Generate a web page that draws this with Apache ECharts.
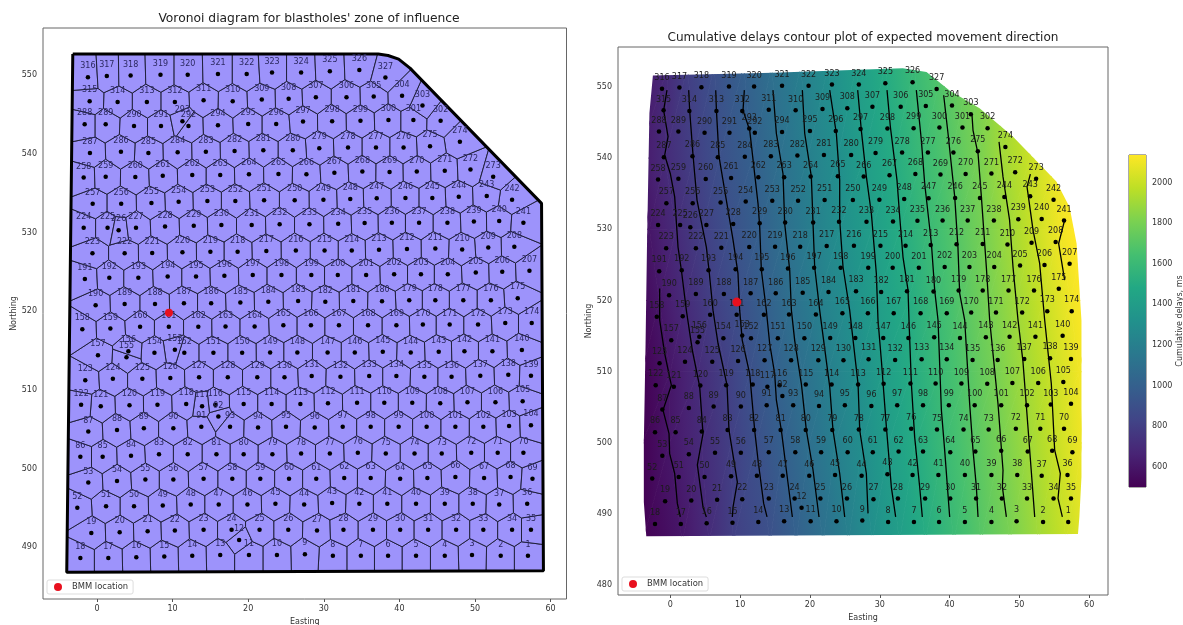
<!DOCTYPE html>
<html><head><meta charset="utf-8">
<style>html,body{margin:0;padding:0;background:#fff}#c{width:1183px;height:625px;filter:blur(0.4px)}</style>
<script src="https://cdn.jsdelivr.net/npm/echarts@6/dist/echarts.min.js"></script>
</head><body><div id="c"></div>
<script>
// Blasthole positions, hole number = index + 1
const holeEastings=[57.0,53.4,49.6,46.0,42.2,38.5,34.9,31.2,27.5,23.8,20.1,18.8,16.3,12.6,8.9,5.2,1.5,-2.2,
-0.75,3.0,6.7,10.3,14.1,17.8,21.5,25.3,29.1,32.6,36.5,40.1,43.8,47.5,51.1,54.9,57.4,
56.9,53.2,49.7,46.0,42.2,38.4,34.7,31.1,27.4,23.6,19.9,16.1,12.4,8.7,4.9,1.2,-2.6,
-1.15,2.65,6.4,10.1,14.1,17.9,21.6,25.4,29.0,32.7,36.2,40.1,43.7,47.4,51.2,54.7,57.6,
56.4,53.0,49.5,45.6,42.0,38.2,34.5,30.8,27.0,23.2,19.4,15.8,12.0,8.2,4.5,0.75,-2.2,
-1.15,2.65,6.2,10.1,13.8,16.05,17.6,21.3,25.0,28.8,32.5,36.2,39.9,43.6,47.4,51.1,54.5,57.4,
56.3,52.7,49.0,45.4,41.7,38.0,34.4,30.55,26.9,23.1,19.4,15.65,13.9,11.8,8.0,4.3,0.5,-2.1,
-1.55,2.1,6.0,9.7,13.5,17.3,21.2,24.8,28.4,32.2,36.0,39.6,43.3,46.9,50.7,54.4,57.4,
56.2,52.3,48.6,45.2,41.5,37.8,34.1,30.5,26.5,22.9,19.2,15.4,11.55,10.3,7.6,3.9,4.15,0.13,
-1.94,1.77,5.7,9.5,13.4,17,20.85,24.65,28.3,32,35.85,39.6,43.1,46.65,50.4,54,57.5,
55.65,52.1,48.45,44.75,41.3,37.7,33.9,30.2,26.6,22.66,18.96,15.1,11.5,7.67,3.66,-0.18,
-1.6,1.63,5.47,9.35,13.1,16.85,20.6,24.4,28.35,31.85,35.6,39.3,42.85,46.4,50.1,53.6,57.2,
55.2,51.75,48.3,44.75,41,37.3,33.7,30.1,26.3,22.4,18.6,15,11.3,7.3,3.66,-0.6,
-1.76,1.4,2.86,5.16,9,12.8,16.45,20.46,24.16,28.1,31.9,35.4,39,42.6,46.35,49.85,53.2,56.4,
54.9,51.55,47.85,44.35,40.8,37,33.5,29.95,26.15,22.1,18.3,14.6,10.8,7.2,3.2,-0.57,
-1.76,1.15,5.07,8.7,12.6,16.3,20.1,24,27.7,31.4,35.1,38.7,42.3,46,49.4,52.4,
48,44.05,40.55,36.9,33.2,29.4,25.9,22,18.2,14.4,10.67,6.8,3.17,-0.93,
-1.63,1.15,4.9,8.47,12.1,11.3,16,20,23.7,27.25,31.1,34.85,38.55,41.85,45.45,
43.05,40.35,36.6,33,28.95,25.35,21.8,17.95,14.1,10.3,6.6,2.73,-0.97,
-1.2,1.3,4.45,8.4,12,16,19.8,23.15,27,30.8,34.7,38.15];
const holeNorthings=[488.9,488.9,489.0,488.9,488.9,488.9,488.9,488.9,489.1,489.0,489.0,490.9,489.0,488.9,488.8,488.7,488.6,488.6,
491.8,491.9,492.0,492.1,492.2,492.2,492.2,492.2,492.1,492.2,492.2,492.2,492.2,492.2,492.2,492.2,492.2,
495.5,495.4,495.5,495.5,495.5,495.5,495.5,495.6,495.4,495.5,495.4,495.4,495.4,495.3,495.2,495.2,495.0,
498.2,498.4,498.6,498.6,498.7,498.7,498.7,498.7,498.7,498.8,498.8,498.7,498.8,498.9,498.8,498.9,498.7,
502,502,502,501.9,501.9,501.9,502,501.9,501.9,501.8,501.8,501.8,501.8,501.8,501.6,501.5,501.5,
504.7,504.9,505.1,505.1,505.3,506.6,505.3,505.2,505.3,505.2,505.3,505.3,505.3,505.3,505.3,505.3,505.4,505.5,
508.55,508.4,508.4,508.3,508.35,508.35,508.35,508.3,508.2,508.2,508.2,508.1,507.9,508.2,508.1,508.05,507.9,508.1,
511.2,511.4,511.4,511.5,511.6,511.6,511.6,511.6,511.75,511.65,511.75,511.75,511.65,511.65,511.8,511.9,511.8,
515.05,514.9,514.9,514.85,514.75,514.85,514.75,514.75,514.75,514.75,514.7,514.7,514.7,515.1,514.7,514.15,514.9,514.4,
517.7,517.8,518,518,518,518.05,518.05,518.2,518.2,518.2,518.2,518.2,518.3,518.3,518.3,518.5,518.5,
521.65,521.4,521.4,521.4,521.4,521.25,521.3,521.2,521.3,521.2,521.1,521,521,520.9,520.9,520.75,
524.1,524.25,524.25,524.4,524.4,524.5,524.6,524.6,524.6,524.6,524.6,524.7,524.7,524.7,524.9,525,525.15,
528.2,528.1,527.85,527.95,527.9,527.8,527.7,527.7,527.7,527.65,527.55,527.55,527.5,527.4,527.35,527.35,
530.6,530.6,530.3,530.6,530.75,530.85,530.95,530.95,531.05,531.05,531.1,531.2,531.25,531.25,531.25,531.4,531.45,531.25,
534.15,534.65,534.55,534.4,534.4,534.35,534.25,534.15,534.1,534.1,534,534,533.9,533.75,533.65,533.65,
537,537.1,537.05,537.2,537.3,537.3,537.4,537.45,537.4,537.6,537.75,537.7,537.75,537.85,538,537.1,
541.55,540.95,540.8,540.8,540.8,540.7,540.45,540.45,540.35,540.25,540.2,540.1,540.25,540.1,
543.75,543.75,543.55,543.55,543.55,544.15,543.65,543.8,543.8,544.1,544.15,544.2,544.3,544.3,544.2,
546.15,547.4,547.3,547.2,547.2,547,546.9,546.7,546.8,546.6,546.6,546.6,546.7,
549.75,549.9,549.95,550.05,550.05,550.15,550.15,550.35,550.35,550.5,550.65,549.7];

const bmmLocation=[9.52,519.78];
const voronoiBoundary=[[-3.2,552.7],[37.2,552.7],[38.5,552.5],[39.9,552.05],[41.4,550.9],[58.8,533.7],[59.05,487],[-4,486.8]];
const fieldBoundary=[[-2.5,551.6],[14.7,552],[30,552.5],[33.3,552.6],[36.7,552.1],[40,549.5],[44.3,547],[49.1,543],[55.3,536.7],[57.2,533.1],[58.2,528],[58.9,517.2],[58.9,495.2],[58.6,489.6],[58.4,487.2],[-3.45,486.9],[-3.8,491.7],[-3.8,499.9],[-3.55,514],[-3.35,527.5],[-3,546.3]];

// Cumulative-delay contours, [easting, northing]
const contour600=[[-1.53,521.68],[-1.53,517.23],[-0.81,512.55],[0.14,508.1],[-1.05,504.6],[-0.19,501.3],[-0.1,498.5],[0.62,495.7],[1.0,491.5],[1.43,489.6]];
const contour700=[[-0.48,549.54],[-0.96,546.7],[-0.33,543],[-0.81,540.4],[0,537.8],[0.62,534.55],[1.1,527.5],[1.58,524.25],[2.29,518.64],[3.15,513],[4.2,507.9],[4.68,501.3],[3.87,496.9],[4.68,491],[5.16,489.6]];
const contour800=[[2.63,549.54],[2.77,546.7],[3.25,540.4],[3.82,534.1],[5.16,527.5],[5.54,524.25],[6.11,518.64],[6.83,513.96],[8.12,508.1],[8.4,501.8],[9.6,494.5],[8.98,491],[8.88,489.6]];
const contour900=[[6.5,549.54],[6.6,546.7],[6.97,540.2],[8.02,534.1],[8.98,528.5],[9.69,523.8],[9.93,518.64],[10.3,514.4],[11.37,509.7],[12.08,501.8],[12.56,497.6],[13.37,491.5],[13.85,489.6]];
const contour1000=[[10.6,549.54],[10.41,546.7],[11.37,543.9],[12.56,533.6],[12.8,530.35],[13.04,524.25],[13.75,518.64],[14.23,513.96],[14.95,509.7],[15.19,506],[15.9,501.8],[16.62,496.2],[17.48,489.6]];
const contour1100=[[14.7,549.54],[15.19,543.45],[16.14,537.8],[16.38,530.8],[17.1,524.25],[17.34,518.64],[17.81,514.4],[18.77,508.3],[19.48,501.8],[20.44,496.2],[21.3,489.6]];
const contour1200=[[18.91,549.54],[19.25,543.45],[20.2,537.4],[20.44,530.8],[20.68,524.7],[21.39,518.64],[22.83,507.9],[23.3,501.8],[24.26,495.7],[24.98,489.6]];
const contour1300=[[22.83,549.54],[23.78,543.45],[24.26,536.9],[24.26,531.3],[24.74,524.7],[25.69,518.64],[26.89,508.3],[27.13,501.8],[28.08,495.7],[28.32,490.1]];
const contour1400=[[26.84,549.54],[27.36,543.9],[28.08,537.4],[28.8,532.2],[29.51,523.8],[29.75,517.23],[30.23,511.6],[30.95,502.25],[31.66,493.8],[32.28,489.6]];
const contour1500=[[31.04,549.54],[31.52,544.4],[32.47,536.9],[32.86,531.75],[33.33,526.1],[34.05,521.45],[34.19,517.23],[34.53,508.3],[35,500.85],[35.72,493.8],[36.1,489.6]];
const contour1600=[[35.24,549.54],[35.96,542.5],[36.44,536.4],[37.4,528],[37.87,521.45],[38.35,517.23],[38.83,504.6],[39.3,498.98],[40.02,489.6]];
const contour1700=[[39.16,548.83],[39.78,543.45],[40.74,534.55],[41.2,527.5],[41.45,521],[42.17,517.23],[42.88,505.5],[43.36,498.98],[43.84,493.8],[44.08,489.6]];
const contour1800=[[43.22,546],[43.36,543.9],[44.08,540.64],[44.56,534.55],[45.27,524.7],[45.75,517.23],[46.94,505.5],[47.66,496.17],[47.57,493.8],[48.14,489.6]];
const contour1900=[[47.09,542.28],[47.66,537.36],[48.6,531.28],[49.09,524.7],[49.81,517.23],[50.5,511.6],[50.98,505.5],[51.7,496.17],[52.2,489.6]];
const contour2000=[[51.58,537.74],[51.1,535.96],[51.96,529.87],[52.91,525.2],[53.63,517.23],[54.58,508.3],[55.06,498.98],[55.87,495.7],[55.54,492.2],[56.16,489.6]];
const contour2100=[[56.49,531.28],[55.63,528],[56.49,522.85]];
const contours=[contour600,contour700,contour800,contour900,contour1000,contour1100,contour1200,contour1300,contour1400,contour1500,contour1600,contour1700,contour1800,contour1900,contour2000,contour2100];

// Where each delay level falls along each northing row of the shaded field
const fieldLevels=[500,600,700,800,900,1000,1100,1200,1300,1400,1500,1600,1700,1800,1900,2000,2100,2200];
const fieldNorthings=[553,540,530,520,510,500,486];
const fieldRow553=[-8.3,-4.3,-0.3,2.5,6.3,10.5,14.5,18.7,22.6,26.6,30.8,35,39,43,47,51,55,59];
const fieldRow540=[-8.5,-4.6,-0.8,3.3,7,11.8,15.7,19.7,24,27.7,32,36.1,40.2,44.1,47.5,51.5,55.5,59.5];
const fieldRow530=[-7,-3,0.8,4.6,8.6,12.8,16.5,20.5,24.3,28.9,32.9,37,41,44.9,48.6,52,55.7,59.5];
const fieldRow520=[-5.5,-1.6,2.1,5.9,9.9,13.6,17.3,21.2,25.5,29.6,34.1,38,41.8,45.6,49.6,53.4,57.3,61];
const fieldRow510=[-4,0,4,8,11.4,14.9,18.9,22.6,26.8,30.4,34.5,38.6,42.6,46.6,50.6,54.6,58.5,62.5];
const fieldRow500=[-4,-0.15,4.5,8.7,12.3,16.2,19.9,23.6,27.5,31.3,35.1,39.2,43.2,47.3,51.4,55.2,59,63];
const fieldRow486=[-4,1.7,5.5,9,14.3,18,21.9,25.5,28.9,32.8,36.5,40.6,44.5,48.6,52.7,56.7,60.6,64.5];
const fieldRows=[fieldRow553,fieldRow540,fieldRow530,fieldRow520,fieldRow510,fieldRow500,fieldRow486];

const viridis=['#440154','#482475','#414487','#355f8d','#2a788e','#21918c','#22a884','#44bf70','#7ad151','#bddf26','#fde725'];
const delayMin=501, delayMax=2135;
const xTicks=[0,10,20,30,40,50,60];
const yTicksLeft=[490,500,510,520,530,540,550];
const yTicksRight=[480,490,500,510,520,530,540,550];
const barTicks=[600,800,1000,1200,1400,1600,1800,2000];

const FONT='DejaVu Sans', INK='#333';
function hex(c){return [1,3,5].map(i=>parseInt(c.substr(i,2),16));}
function viridisAt(v){
  let t=Math.max(0,Math.min(1,(v-delayMin)/(delayMax-delayMin)))*(viridis.length-1);
  let i=Math.min(viridis.length-2,Math.floor(t)),f=t-i,a=hex(viridis[i]),b=hex(viridis[i+1]);
  return 'rgb('+a.map((x,k)=>Math.round(x+(b[k]-x)*f)).join(',')+')';
}
const holes=holeEastings.map((e,i)=>[e,holeNorthings[i],i+1]);

// Voronoi cells of the holes, trimmed to the boundary polygon
function voronoiCell(i){
  let poly=voronoiBoundary.slice(), pi=holes[i];
  holes.forEach((q,j)=>{
    if(j===i||!poly.length) return;
    const mx=(pi[0]+q[0])/2,my=(pi[1]+q[1])/2,nx=q[0]-pi[0],ny=q[1]-pi[1];
    const side=p=>(p[0]-mx)*nx+(p[1]-my)*ny, out=[];
    for(let k=0;k<poly.length;k++){
      const a=poly[k],b=poly[(k+1)%poly.length],sa=side(a),sb=side(b);
      if(sa<=0) out.push(a);
      if((sa<0&&sb>0)||(sa>0&&sb<0)){const t=sa/(sa-sb);out.push([a[0]+(b[0]-a[0])*t,a[1]+(b[1]-a[1])*t]);}
    }
    poly=out;
  });
  return poly;
}
const cells=holes.map((h,i)=>voronoiCell(i));

// Triangles of the shaded field: vertices [easting, northing, delay]
const triangles=[];
for(let r=0;r<fieldNorthings.length-1;r++){
  for(let l=0;l<fieldLevels.length-1;l++){
    const A=[fieldRows[r][l],fieldNorthings[r],fieldLevels[l]],B=[fieldRows[r][l+1],fieldNorthings[r],fieldLevels[l+1]];
    const C=[fieldRows[r+1][l],fieldNorthings[r+1],fieldLevels[l]],D=[fieldRows[r+1][l+1],fieldNorthings[r+1],fieldLevels[l+1]];
    triangles.push([A,B,C],[B,D,C]);
  }
}
function renderTriangle(params,api){
  const t=triangles[params.dataIndex],p=t.map(v=>api.coord([v[0],v[1]]));
  const ax=p[1][0]-p[0][0],ay=p[1][1]-p[0][1],bx=p[2][0]-p[0][0],by=p[2][1]-p[0][1];
  const da=t[1][2]-t[0][2],db=t[2][2]-t[0][2],det=ax*by-ay*bx;
  const gx=(da*by-db*ay)/det,gy=(ax*db-bx*da)/det,g2=gx*gx+gy*gy;
  const lo=Math.min(t[0][2],t[1][2],t[2][2]),hi=Math.max(t[0][2],t[1][2],t[2][2]);
  const sx=p[0][0]-gx*(t[0][2]-lo)/g2,sy=p[0][1]-gy*(t[0][2]-lo)/g2;
  const fill=new echarts.graphic.LinearGradient(sx,sy,sx+gx*(hi-lo)/g2,sy+gy*(hi-lo)/g2,
    [{offset:0,color:viridisAt(lo)},{offset:0.5,color:viridisAt((lo+hi)/2)},{offset:1,color:viridisAt(hi)}],true);
  return {type:'polygon',shape:{points:p},style:{fill:fill,stroke:fill,lineWidth:0.8},
    clipPath:{type:'polygon',shape:{points:fieldBoundary.map(b=>api.coord(b))}}};
}
function renderCell(params,api){
  return {type:'polygon',shape:{points:cells[params.dataIndex].map(c=>api.coord(c))},
    style:{fill:'#9d93fb',stroke:'#20203c',lineWidth:1}};
}
function renderBar(params,api){
  const a=api.coord([0,delayMin]),b=api.coord([1,delayMax]);
  return {type:'rect',shape:{x:a[0],y:b[1],width:b[0]-a[0],height:a[1]-b[1]},
    style:{fill:new echarts.graphic.LinearGradient(0,1,0,0,viridis.map((c,i)=>({offset:i/(viridis.length-1),color:c})))}};
}
function valueAxis(min,max,ticks,name,gap,idx,pos){
  return {type:'value',gridIndex:idx,min:min,max:max,position:pos,name:name,nameLocation:'middle',nameGap:gap,
    nameTextStyle:{fontFamily:FONT,fontSize:8,color:INK},
    axisLine:{show:false},splitLine:{show:false},
    axisTick:{show:true,length:3,customValues:ticks,lineStyle:{color:'#555',width:1}},
    axisLabel:{show:true,fontFamily:FONT,fontSize:8,color:INK,margin:6,customValues:ticks,showMinLabel:true,showMaxLabel:true,formatter:v=>String(v)}};
}
function holeSeries(idx,r,labelColor){
  return {type:'scatter',xAxisIndex:idx,yAxisIndex:idx,data:holes,symbolSize:r,z:5,silent:true,
    encode:{x:0,y:1},itemStyle:{color:'#000',opacity:1},
    label:{show:true,position:'top',distance:4.7,fontFamily:FONT,fontSize:8,color:labelColor,
      formatter:p=>String(p.value[2])}};
}
function bmmSeries(idx,size){
  return {type:'scatter',name:'BMM location',xAxisIndex:idx,yAxisIndex:idx,data:[bmmLocation],symbolSize:size,z:6,silent:true,
    itemStyle:{color:'#e8101e',opacity:1}};
}
function legendAt(left,top){
  return {show:true,left:left,top:top,orient:'horizontal',data:[{name:'BMM location',icon:'circle'}],
    itemWidth:8,itemHeight:8,padding:[3,5,3,7],backgroundColor:'#fff',borderColor:'#ddd',borderWidth:1,borderRadius:2,
    selectedMode:false,textStyle:{fontFamily:FONT,fontSize:8.4,color:INK,padding:[0,0,0,5]}};
}
const chart=echarts.init(document.getElementById('c'),null,{renderer:'canvas'});
chart.setOption({
  animation:false,backgroundColor:'#fff',
  title:[
    {text:"Voronoi diagram for blastholes' zone of influence",left:304,top:8,textAlign:'center',textStyle:{fontFamily:FONT,fontSize:12.3,fontWeight:'normal',color:'#222'}},
    {text:'Cumulative delays contour plot of expected movement direction',left:858,top:27,textAlign:'center',textStyle:{fontFamily:FONT,fontSize:12.1,fontWeight:'normal',color:'#222'}}
  ],
  legend:[legendAt(47,580),legendAt(622,577)],
  grid:[
    {left:43,top:28,width:523.5,height:571,show:true,borderColor:'#666',borderWidth:1,backgroundColor:'transparent',outerBoundsMode:'none'},
    {left:618,top:47,width:490,height:548,show:true,borderColor:'#666',borderWidth:1,backgroundColor:'transparent',outerBoundsMode:'none'},
    {left:1129,top:155,width:17,height:332,show:true,borderColor:'#555',borderWidth:1,backgroundColor:'transparent',outerBoundsMode:'none'}
  ],
  xAxis:[
    valueAxis(-7.14,62.1,xTicks,'Easting',18,0,'bottom'),
    valueAxis(-7.5,62.7,xTicks,'Easting',17,1,'bottom'),
    {type:'value',gridIndex:2,min:0,max:1,show:false}
  ],
  yAxis:[
    valueAxis(483.4,556,yTicksLeft,'Northing',24,0,'left'),
    valueAxis(478.64,555.6,yTicksRight,'Northing',24,1,'left'),
    Object.assign(valueAxis(delayMin,delayMax,barTicks,'Cumulative delays, ms',27,2,'right'),{nameRotate:90})
  ],
  series:[
    {type:'custom',xAxisIndex:0,yAxisIndex:0,coordinateSystem:'cartesian2d',clip:false,silent:true,z:1,
      renderItem:renderCell,data:holes,encode:{x:0,y:1}},
    {type:'line',xAxisIndex:0,yAxisIndex:0,data:voronoiBoundary.concat([voronoiBoundary[0]]),symbol:'none',silent:true,z:2,clip:false,
      lineStyle:{color:'#000',width:3}},
    holeSeries(0,4.5,'#2b2860'),
    bmmSeries(0,8),
    {type:'custom',xAxisIndex:1,yAxisIndex:1,coordinateSystem:'cartesian2d',clip:false,silent:true,z:1,
      renderItem:renderTriangle,data:triangles.map(t=>[t[0][0],t[0][1]]),encode:{x:0,y:1}},
  ].concat(contours.map(c=>({type:'line',xAxisIndex:1,yAxisIndex:1,data:c,symbol:'none',silent:true,z:3,
      lineStyle:{color:'#000',width:1.3}}))).concat([
    holeSeries(1,4.5,'#1c1c1c'),
    bmmSeries(1,9),
    {type:'custom',xAxisIndex:2,yAxisIndex:2,coordinateSystem:'cartesian2d',clip:false,silent:true,z:1,
      renderItem:renderBar,data:[[0,delayMin]],encode:{x:0,y:1}}
  ])
});
</script></body></html>
